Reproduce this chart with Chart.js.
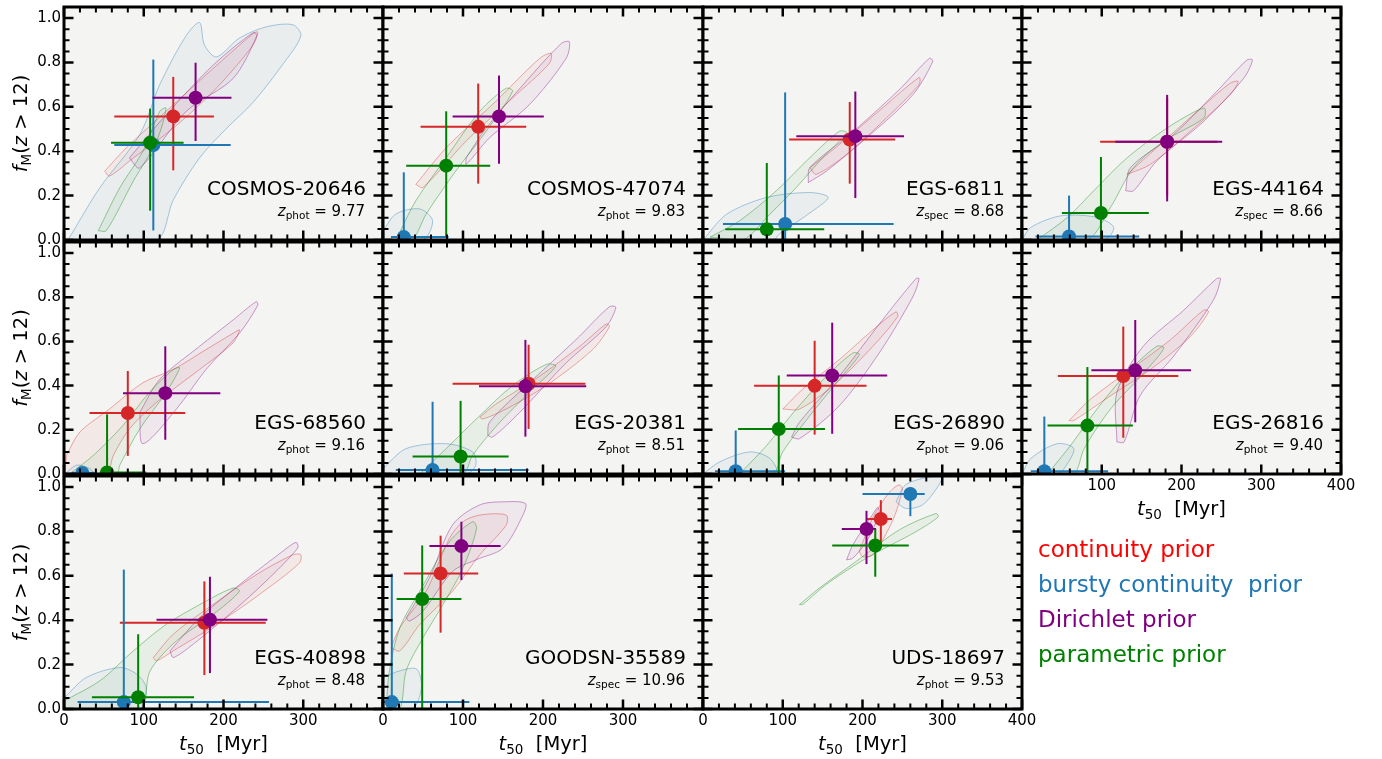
<!DOCTYPE html>
<html>
<head>
<meta charset="utf-8">
<script src="https://cdn.jsdelivr.net/npm/chart.js@4.4.1/dist/chart.umd.min.js"></script>
<style>
  body { margin: 0; background: #fff; }
  #fig { position: relative; width: 1382px; height: 759px; overflow: hidden; }
  #fig canvas { position: absolute; }
  .prior { position: absolute; left: 1038px; font: 23px 'DejaVu Sans', sans-serif; line-height: 35px; white-space: pre; }
</style>
</head>
<body>
<div id="fig"></div>
<script>
/* t50 vs f_M(z>12) for eleven galaxies, four SFH priors, one panel each */

const galaxies = ['COSMOS-20646', 'COSMOS-47074', 'EGS-6811', 'EGS-44164', 'EGS-68560', 'EGS-20381',
  'EGS-26890', 'EGS-26816', 'EGS-40898', 'GOODSN-35589', 'UDS-18697'];
const zKinds = ['phot', 'phot', 'spec', 'spec', 'phot', 'phot', 'phot', 'phot', 'phot', 'spec', 'phot'];
const zValues = ['9.77', '9.83', '8.68', '8.66', '9.16', '8.51', '9.06', '9.40', '8.48', '10.96', '9.53'];

// [t50, t50 lo, t50 hi, fM, fM lo, fM hi] per galaxy
const continuity = [
  [137, 63, 188, 0.557, 0.314, 0.735], [119, 47, 179, 0.51, 0.254, 0.705], [184, 108, 241, 0.453, 0.254, 0.622],
  [182, 98, 245, 0.443, 0.2, 0.64], [80, 32, 152, 0.276, 0.082, 0.466], [182, 87, 253, 0.409, 0.204, 0.585],
  [140, 64, 205, 0.399, 0.178, 0.603], [127, 45, 196, 0.443, 0.164, 0.667], [176, 70, 253, 0.389, 0.153, 0.575],
  [72, 26, 119, 0.611, 0.344, 0.781], [223, 205, 237, 0.856, 0.732, 0.941],
];
const bursty = [
  [112, 63, 209, 0.428, 0.043, 0.813], [26, 10, 82, 0.013, 0, 0.305], [103, 25, 239, 0.072, 0, 0.665],
  [59, 17, 147, 0.016, 0, 0.2], [23, 10, 40, 0.005, 0, 0.02], [62, 16, 182, 0.018, 0, 0.327],
  [41, 15, 103, 0.013, 0, 0.197], [28, 11, 108, 0.013, 0, 0.26], [75, 17, 257, 0.031, 0, 0.628],
  [11, 0, 108, 0.031, 0, 0.61], [260, 200, 278, 0.969, 0.869, 1.0],
];
const dirichlet = [
  [165, 111, 210, 0.641, 0.446, 0.799], [145, 87, 201, 0.557, 0.344, 0.741], [191, 117, 252, 0.468, 0.189, 0.669],
  [182, 117, 251, 0.443, 0.174, 0.654], [127, 74, 196, 0.366, 0.155, 0.578], [178, 120, 254, 0.397, 0.169, 0.607],
  [162, 105, 231, 0.446, 0.182, 0.685], [142, 87, 212, 0.469, 0.234, 0.697], [183, 116, 255, 0.402, 0.162, 0.596],
  [98, 58, 147, 0.734, 0.581, 0.844], [205, 174, 217, 0.811, 0.653, 0.893],
];
const parametric = [
  [108, 59, 150, 0.438, 0.132, 0.592], [79, 29, 134, 0.335, 0.01, 0.58], [80, 28, 152, 0.048, 0, 0.347],
  [99, 50, 159, 0.122, 0, 0.374], [54, 45, 103, 0.007, 0, 0.27], [97, 37, 157, 0.079, 0, 0.331],
  [95, 44, 153, 0.204, 0, 0.446], [82, 32, 139, 0.219, 0, 0.484], [93, 35, 163, 0.053, 0, 0.337],
  [49, 17, 98, 0.496, 0, 0.737], [216, 162, 258, 0.737, 0.596, 0.811],
];

// outer posterior contour per galaxy, [t50, fM] vertices
const contContinuity = [
  [[51, 0.31], [78, 0.415], [128, 0.58], [187, 0.773], [237, 0.93], [243, 0.937], [237, 0.878], [191, 0.684], [137, 0.504], [87, 0.37], [57, 0.288]],
  [[41, 0.25], [79, 0.416], [141, 0.625], [196, 0.819], [210, 0.841], [208, 0.796], [162, 0.64], [104, 0.446], [50, 0.237]],
  [[134, 0.326], [171, 0.43], [225, 0.595], [271, 0.732], [271, 0.70], [230, 0.55], [180, 0.386], [142, 0.296]],
  [[132, 0.296], [169, 0.416], [215, 0.565], [261, 0.707], [271, 0.714], [261, 0.654], [211, 0.49], [161, 0.341]],
  [[3, 0.085], [20, 0.19], [57, 0.294], [99, 0.413], [137, 0.473], [178, 0.563], [212, 0.637], [220, 0.652], [212, 0.593], [170, 0.473], [116, 0.324], [82, 0.204], [62, 0.085], [53, 0], [3, 0]],
  [[121, 0.257], [141, 0.316], [196, 0.443], [246, 0.578], [279, 0.679], [283, 0.667], [262, 0.563], [204, 0.40], [154, 0.294], [125, 0.249]],
  [[100, 0.294], [125, 0.384], [171, 0.518], [213, 0.652], [242, 0.734], [244, 0.712], [213, 0.578], [163, 0.399], [121, 0.294]],
  [[59, 0.242], [86, 0.339], [136, 0.473], [186, 0.607], [228, 0.742], [234, 0.734], [211, 0.622], [161, 0.473], [111, 0.354], [65, 0.242]],
  [[112, 0.232], [137, 0.337], [187, 0.471], [241, 0.605], [287, 0.695], [297, 0.695], [295, 0.657], [245, 0.516], [191, 0.381], [137, 0.262], [116, 0.217]],
  [[10, 0.277], [21, 0.366], [54, 0.531], [83, 0.769], [100, 0.844], [121, 0.874], [154, 0.874], [154, 0.829], [121, 0.695], [87, 0.531], [46, 0.381], [21, 0.262]],
  [[196, 0.71], [213, 0.863], [234, 0.978], [246, 1.01], [250, 0.99], [238, 0.851], [213, 0.695], [200, 0.687]],
];
const contBursty = [
  [[5, 0], [45, 0.236], [95, 0.475], [120, 0.70], [153, 0.92], [170, 0.98], [176, 0.88], [191, 0.825], [220, 0.91], [253, 0.96], [287, 0.97], [297, 0.92], [274, 0.79], [237, 0.62], [203, 0.50], [170, 0.37], [137, 0.18], [116, 0]],
  [[0, 0.04], [16, 0.117], [46, 0.14], [62, 0.087], [50, 0], [0, 0]],
  [[0, 0], [30, 0.117], [80, 0.192], [134, 0.214], [157, 0.192], [138, 0.132], [96, 0.028], [88, 0]],
  [[0, 0], [11, 0.057], [49, 0.109], [94, 0.102], [115, 0.057], [103, 0]],
  [[1, 0], [16, 0.04], [32, 0.025], [37, 0]],
  [[0, 0.025], [29, 0.115], [79, 0.137], [112, 0.10], [116, 0.04], [104, 0], [0, 0]],
  [[0, 0], [21, 0.055], [59, 0.10], [84, 0.07], [92, 0]],
  [[0, 0], [11, 0.07], [44, 0.137], [65, 0.115], [53, 0.025], [44, 0]],
  [[1, 0.053], [28, 0.142], [70, 0.187], [91, 0.157], [103, 0.097], [95, 0], [1, 0]],
  [[0, 0.142], [21, 0.172], [42, 0.18], [48, 0.097], [37, 0], [0, 0]],
  [[242, 0.934], [254, 1.01], [284, 1.046], [299, 1.046], [296, 1.01], [275, 0.919], [254, 0.904]],
];
const contDirichlet = [
  [[82, 0.37], [128, 0.564], [187, 0.788], [237, 0.934], [242, 0.922], [212, 0.728], [153, 0.579], [95, 0.325]],
  [[104, 0.371], [129, 0.505], [175, 0.699], [223, 0.886], [233, 0.893], [229, 0.819], [183, 0.61], [133, 0.46], [104, 0.341]],
  [[132, 0.259], [134, 0.326], [184, 0.475], [246, 0.677], [284, 0.819], [288, 0.804], [263, 0.654], [205, 0.46], [155, 0.311]],
  [[130, 0.222], [136, 0.326], [190, 0.475], [244, 0.669], [282, 0.811], [289, 0.811], [278, 0.729], [228, 0.535], [169, 0.356], [140, 0.222]],
  [[95, 0.279], [120, 0.428], [170, 0.578], [212, 0.697], [241, 0.78], [243, 0.764], [220, 0.637], [178, 0.473], [141, 0.294], [99, 0.137]],
  [[131, 0.175], [133, 0.234], [183, 0.413], [241, 0.607], [283, 0.757], [291, 0.754], [279, 0.667], [229, 0.503], [171, 0.279], [137, 0.167]],
  [[111, 0.167], [121, 0.234], [171, 0.443], [225, 0.697], [267, 0.884], [271, 0.884], [263, 0.801], [221, 0.548], [171, 0.309], [121, 0.16]],
  [[119, 0.145], [119, 0.369], [152, 0.578], [203, 0.742], [244, 0.884], [249, 0.884], [240, 0.787], [190, 0.533], [148, 0.354], [128, 0.145]],
  [[133, 0.262], [170, 0.411], [220, 0.56], [274, 0.71], [291, 0.751], [293, 0.725], [253, 0.575], [212, 0.441], [162, 0.292], [137, 0.232]],
  [[29, 0.411], [58, 0.59], [87, 0.83], [121, 0.92], [154, 0.934], [178, 0.926], [175, 0.874], [150, 0.725], [116, 0.672], [87, 0.62], [50, 0.441], [33, 0.396]],
  [[180, 0.672], [188, 0.74], [213, 0.878], [219, 0.908], [221, 0.878], [205, 0.755], [188, 0.68]],
];
const contParametric = [
  [[43, 0.042], [70, 0.236], [99, 0.4], [120, 0.579], [128, 0.594], [116, 0.445], [87, 0.266], [53, 0.042]],
  [[20, 0.028], [41, 0.177], [79, 0.371], [121, 0.58], [154, 0.684], [162, 0.67], [129, 0.49], [91, 0.311], [54, 0.117], [37, 0.005]],
  [[9, 0.013], [46, 0.087], [92, 0.222], [134, 0.371], [171, 0.49], [180, 0.483], [150, 0.371], [117, 0.237], [84, 0.117], [50, 0]],
  [[19, 0], [57, 0.102], [90, 0.222], [132, 0.371], [182, 0.505], [228, 0.595], [228, 0.55], [178, 0.445], [140, 0.326], [111, 0.147], [82, 0]],
  [[7, 0], [37, 0.085], [74, 0.22], [107, 0.369], [137, 0.473], [145, 0.48], [128, 0.369], [95, 0.204], [70, 0.04], [66, 0]],
  [[46, 0], [79, 0.115], [121, 0.264], [162, 0.40], [204, 0.496], [216, 0.488], [187, 0.384], [146, 0.234], [112, 0.085], [100, 0]],
  [[46, 0], [80, 0.13], [117, 0.294], [155, 0.443], [188, 0.548], [196, 0.54], [171, 0.428], [134, 0.264], [100, 0.10], [88, 0]],
  [[32, 0], [61, 0.13], [94, 0.294], [132, 0.458], [169, 0.578], [178, 0.57], [153, 0.458], [111, 0.294], [78, 0.115], [65, 0]],
  [[1, 0.038], [45, 0.127], [87, 0.262], [128, 0.381], [178, 0.486], [212, 0.545], [220, 0.53], [187, 0.426], [141, 0.307], [108, 0.172], [95, 0], [3, 0]],
  [[4, 0], [8, 0.172], [21, 0.366], [46, 0.531], [83, 0.754], [112, 0.844], [117, 0.814], [100, 0.635], [75, 0.471], [50, 0.321], [29, 0.172], [21, 0]],
  [[121, 0.471], [146, 0.545], [192, 0.665], [246, 0.807], [292, 0.881], [295, 0.866], [267, 0.799], [205, 0.68], [154, 0.56], [125, 0.471]],
];

const xTicks = [0, 100, 200, 300, 400];
const xTickLabels = ['0', '100', '200', '300', '400'];
const xMinor = [20, 40, 60, 80, 120, 140, 160, 180, 220, 240, 260, 280, 320, 340, 360, 380];
const yTicks = [0, 0.2, 0.4, 0.6, 0.8, 1.0];
const yTickLabels = ['0.0', '0.2', '0.4', '0.6', '0.8', '1.0'];
const yMinor = [0.05, 0.1, 0.15, 0.25, 0.3, 0.35, 0.45, 0.5, 0.55, 0.65, 0.7, 0.75, 0.85, 0.9, 0.95];

const priors = [
  { label: 'continuity prior', color: '#d62728', text: '#ff0000', rows: continuity, contour: contContinuity },
  { label: 'bursty continuity  prior', color: '#1f77b4', text: '#1f77b4', rows: bursty, contour: contBursty },
  { label: 'Dirichlet prior', color: '#800080', text: '#800080', rows: dirichlet, contour: contDirichlet },
  { label: 'parametric prior', color: '#008000', text: '#008000', rows: parametric, contour: contParametric },
];

const FONT = "'DejaVu Sans', sans-serif";
const COLS = [64, 383, 703, 1022, 1341];
const ROWS = [5, 240, 474, 709];
const PAD = { l: 64, t: 5, r: 22, b: 52 };

const rgba = (hex, a) => {
  const n = parseInt(hex.slice(1), 16);
  return `rgba(${n >> 16}, ${(n >> 8) & 255}, ${n & 255}, ${a})`;
};

// draw a run of [text, font, dy] pieces on one baseline
function drawRich(ctx, segs, x, y, align) {
  let total = 0;
  segs.forEach(([s, f]) => { ctx.font = f; total += ctx.measureText(s).width; });
  let cx = align === 'right' ? x - total : align === 'center' ? x - total / 2 : x;
  ctx.textAlign = 'left';
  ctx.textBaseline = 'alphabetic';
  segs.forEach(([s, f, dy]) => {
    ctx.font = f;
    ctx.fillText(s, cx, y + dy);
    cx += ctx.measureText(s).width;
  });
}

const panelBg = {
  id: 'panelBg',
  beforeDraw(chart) {
    const { ctx, chartArea: a } = chart;
    ctx.save();
    ctx.fillStyle = '#f4f4f2';
    ctx.fillRect(a.left, a.top, a.right - a.left, a.bottom - a.top);
    ctx.restore();
  },
};

// inward ticks on all four sides plus the frame
const frameTicks = {
  id: 'frameTicks',
  afterDraw(chart) {
    const { ctx, chartArea: a, scales: { x, y } } = chart;
    ctx.save();
    ctx.strokeStyle = '#000';
    const xMarks = (vals, len, w) => {
      ctx.lineWidth = w;
      ctx.beginPath();
      vals.forEach((v) => {
        const px = x.getPixelForValue(v);
        ctx.moveTo(px, a.bottom); ctx.lineTo(px, a.bottom - len);
        ctx.moveTo(px, a.top); ctx.lineTo(px, a.top + len);
      });
      ctx.stroke();
    };
    const yMarks = (vals, len, w) => {
      ctx.lineWidth = w;
      ctx.beginPath();
      vals.forEach((v) => {
        const py = y.getPixelForValue(v);
        ctx.moveTo(a.left, py); ctx.lineTo(a.left + len, py);
        ctx.moveTo(a.right, py); ctx.lineTo(a.right - len, py);
      });
      ctx.stroke();
    };
    xMarks(xMinor, 5.5, 2);
    yMarks(yMinor, 5.5, 2);
    xMarks(xTicks, 9.5, 2.5);
    yMarks(yTicks, 9.5, 2.5);
    ctx.lineWidth = 3;
    ctx.strokeRect(a.left, a.top, a.right - a.left, a.bottom - a.top);
    ctx.restore();
  },
};

function panelText(i, showX, showY) {
  return {
    id: 'panelText',
    afterDraw(chart) {
      const { ctx, chartArea: a } = chart;
      ctx.save();
      ctx.fillStyle = '#000';
      drawRich(ctx, [[galaxies[i], `20px ${FONT}`, 0]], a.right - 17, a.bottom - 45.5, 'right');
      drawRich(ctx, [
        ['z', `italic 15px ${FONT}`, 0],
        [zKinds[i], `10.5px ${FONT}`, 3],
        [` = ${zValues[i]}`, `15px ${FONT}`, 0],
      ], a.right - 18, a.bottom - 24.5, 'right');
      if (showX) {
        drawRich(ctx, [
          ['t', `italic 19.5px ${FONT}`, 0],
          ['50', `13.5px ${FONT}`, 4],
          ['  [Myr]', `19.5px ${FONT}`, 0],
        ], (a.left + a.right) / 2, a.bottom + 40.5, 'center');
      }
      if (showY) {
        ctx.translate(26.5, (a.top + a.bottom) / 2);
        ctx.rotate(-Math.PI / 2);
        drawRich(ctx, [
          ['f', `italic 19.5px ${FONT}`, 0],
          ['M', `13.5px ${FONT}`, 4],
          ['(', `19.5px ${FONT}`, 0],
          ['z', `italic 19.5px ${FONT}`, 0],
          [' > 12)', `19.5px ${FONT}`, 0],
        ], 0, 0, 'center');
      }
      ctx.restore();
    },
  };
}

const fig = document.getElementById('fig');

galaxies.forEach((name, i) => {
  const r = Math.floor(i / 4);
  const c = i % 4;
  const w = COLS[c + 1] - COLS[c];
  const h = ROWS[r + 1] - ROWS[r];
  const canvas = document.createElement('canvas');
  canvas.width = w + PAD.l + PAD.r;
  canvas.height = h + PAD.t + PAD.b;
  canvas.style.left = `${COLS[c] - PAD.l}px`;
  canvas.style.top = `${ROWS[r] - PAD.t}px`;
  canvas.style.width = `${canvas.width}px`;
  canvas.style.height = `${canvas.height}px`;
  fig.appendChild(canvas);

  const showY = c === 0;
  const showX = r === 2 || i === 7;

  const datasets = [];
  priors.forEach((p, k) => {
    const poly = p.contour[i].map(([x, y]) => ({ x, y }));
    poly.push({ ...poly[0] });
    datasets.push({
      data: poly, showLine: true, fill: 'shape', tension: 0.3,
      backgroundColor: rgba(p.color, 0.05), borderColor: rgba(p.color, 0.38), borderWidth: 1,
      pointRadius: 0, order: 20 - k, clip: 0,
    });
    const [t, tLo, tHi, f, fLo, fHi] = p.rows[i];
    const bar = { showLine: true, borderColor: p.color, borderWidth: 2, pointRadius: 0, order: 11 - 2 * k, clip: 0 };
    datasets.push({ ...bar, data: [{ x: tLo, y: f }, { x: tHi, y: f }] });
    datasets.push({ ...bar, data: [{ x: t, y: fLo }, { x: t, y: fHi }] });
    datasets.push({
      data: [{ x: t, y: f }], pointRadius: 7, pointBackgroundColor: p.color,
      pointBorderWidth: 0, order: 10 - 2 * k, clip: 0,
    });
  });

  new Chart(canvas, {
    type: 'scatter',
    data: { datasets },
    plugins: [panelBg, panelText(i, showX, showY), frameTicks],
    options: {
      responsive: false,
      animation: false,
      events: [],
      layout: { padding: { left: 0, top: PAD.t, right: PAD.r, bottom: 0 } },
      plugins: { legend: { display: false }, tooltip: { enabled: false } },
      scales: {
        x: {
          type: 'linear', min: 0, max: 400,
          grid: { display: false, drawTicks: false }, border: { display: false },
          afterBuildTicks: (s) => { s.ticks = xTicks.map((value) => ({ value })); },
          afterFit: (s) => { s.height = PAD.b; s.paddingLeft = 0; s.paddingRight = 0; },
          ticks: {
            autoSkip: false, maxRotation: 0, padding: 3, color: '#000',
            font: { family: FONT, size: 15 },
            callback: (v, idx) => {
              if (!showX) return '';
              if (i === 7 && v === 0) return '';
              if ((i === 8 || i === 9) && v === 400) return '';
              return xTickLabels[idx];
            },
          },
        },
        y: {
          type: 'linear', min: 0, max: 1.05,
          grid: { display: false, drawTicks: false }, border: { display: false },
          afterBuildTicks: (s) => { s.ticks = yTicks.map((value) => ({ value })); },
          afterFit: (s) => { s.width = PAD.l; s.paddingTop = 0; s.paddingBottom = 0; },
          ticks: {
            autoSkip: false, padding: 3, color: '#000',
            font: { family: FONT, size: 15 },
            callback: (v, idx) => (showY ? yTickLabels[idx] : ''),
          },
        },
      },
    },
  });
});

priors.forEach((p, k) => {
  const div = document.createElement('div');
  div.className = 'prior';
  div.style.top = `${531.5 + 35 * k}px`;
  div.style.color = p.text;
  div.textContent = p.label;
  fig.appendChild(div);
});
</script>
</body>
</html>
